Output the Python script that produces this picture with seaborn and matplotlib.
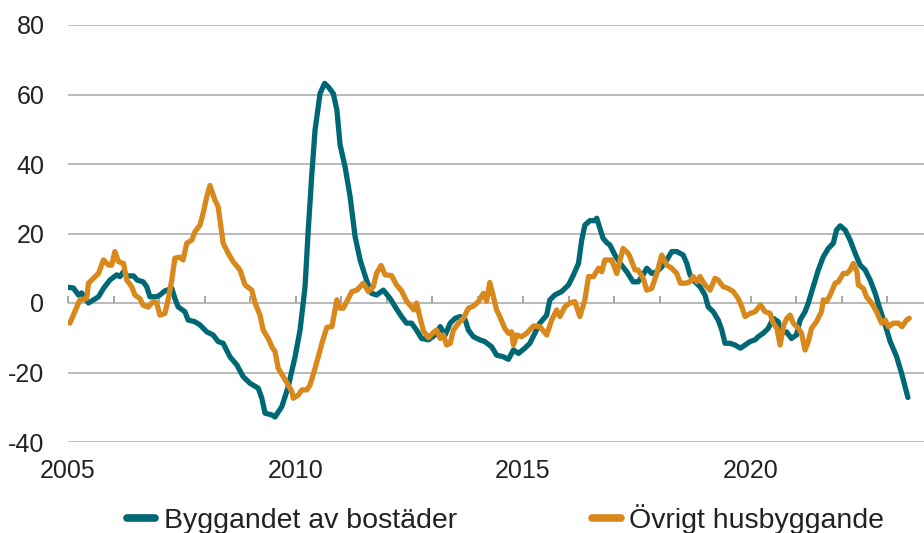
import pandas as pd
import seaborn as sns
import matplotlib.pyplot as plt
from matplotlib.lines import Line2D

# Byggandet av bostäder (teal), decimal year / value
bost_year = [2005.01, 2005.12, 2005.23, 2005.30, 2005.45, 2005.56, 2005.67, 2005.78, 2005.92,
             2006.07, 2006.14, 2006.22, 2006.29, 2006.44, 2006.52, 2006.65, 2006.73, 2006.80, 2006.95,
             2007.02, 2007.13, 2007.28, 2007.35, 2007.42, 2007.57, 2007.64, 2007.79, 2007.90,
             2008.05, 2008.19, 2008.30, 2008.41, 2008.56, 2008.71, 2008.85,
             2009.00, 2009.18, 2009.26, 2009.33, 2009.48, 2009.55, 2009.70, 2009.84, 2009.99,
             2010.10, 2010.21, 2010.28, 2010.36, 2010.43, 2010.54, 2010.64, 2010.72, 2010.83, 2010.91, 2010.98,
             2011.09, 2011.20, 2011.31, 2011.42, 2011.56, 2011.67, 2011.78, 2011.93,
             2012.08, 2012.19, 2012.33, 2012.44, 2012.55, 2012.66, 2012.77, 2012.92,
             2013.07, 2013.18, 2013.29, 2013.40, 2013.51, 2013.62, 2013.73, 2013.80, 2013.91,
             2014.05, 2014.16, 2014.31, 2014.42, 2014.57, 2014.68, 2014.79, 2014.90,
             2015.04, 2015.15, 2015.26, 2015.37, 2015.52, 2015.59, 2015.70, 2015.85,
             2016.00, 2016.11, 2016.22, 2016.29, 2016.36, 2016.47, 2016.58, 2016.62, 2016.69, 2016.76, 2016.84, 2016.91,
             2017.02, 2017.13, 2017.28, 2017.42, 2017.53, 2017.64, 2017.72, 2017.83, 2017.94,
             2018.05, 2018.16, 2018.27, 2018.38, 2018.52, 2018.60, 2018.67, 2018.78, 2018.89,
             2019.00, 2019.07, 2019.18, 2019.29, 2019.37, 2019.44, 2019.55, 2019.66, 2019.78, 2019.88, 2019.99,
             2020.10, 2020.17, 2020.28, 2020.39, 2020.50, 2020.61, 2020.68, 2020.79, 2020.90,
             2021.01, 2021.09, 2021.20, 2021.27, 2021.38, 2021.49, 2021.60, 2021.71, 2021.82, 2021.89, 2021.97,
             2022.08, 2022.19, 2022.30, 2022.41, 2022.52, 2022.63, 2022.74, 2022.85, 2022.96,
             2023.07, 2023.21, 2023.32, 2023.46]
bost_val = [4.5, 4.3, 2.3, 2.9, 0.0, 0.9, 1.8, 4.2, 6.6,
            8.1, 7.6, 9.0, 7.8, 7.8, 6.6, 6.1, 4.7, 1.8, 1.8,
            2.3, 3.5, 4.2, 1.3, -1.1, -2.5, -4.9, -5.4, -6.3,
            -8.3, -9.2, -11.1, -11.6, -15.5, -17.8, -21.2,
            -23.1, -24.5, -27.4, -31.7, -32.2, -32.8, -29.8, -24.1, -15.5,
            -7.8, 4.7, 21.0, 37.3, 49.8, 60.3, 63.2, 62.2, 60.3, 55.5, 45.5,
            39.2, 30.6, 19.1, 12.4, 6.6, 2.8, 2.3, 3.7,
            1.3, -1.1, -3.9, -5.8, -5.8, -7.8, -10.2, -10.6,
            -9.2, -6.8, -9.2, -5.8, -4.4, -3.9, -4.9, -7.8, -9.7,
            -10.6, -11.1, -12.6, -15.0, -15.5, -16.2, -13.5, -14.5,
            -13.0, -11.6, -8.7, -5.8, -3.5, 0.9, 2.3, 3.3,
            5.2, 8.1, 11.4, 18.1, 22.4, 23.7, 23.7, 24.4, 21.5, 18.6, 17.4, 16.7,
            13.8, 11.5, 9.0, 6.1, 6.1, 8.1, 10.0, 8.5, 9.0,
            10.4, 12.4, 14.8, 14.8, 13.8, 11.4, 8.1, 6.1, 4.7,
            2.3, -1.1, -2.5, -4.9, -7.8, -11.6, -11.6, -12.1, -13.0, -12.1, -11.1,
            -10.6, -9.7, -8.7, -7.3, -4.4, -5.4, -8.7, -8.3, -10.2,
            -9.2, -4.9, -2.5, 0.0, 4.7, 9.5, 13.3, 15.7, 17.2, 21.0, 22.2,
            21.0, 18.1, 14.3, 10.9, 9.5, 6.6, 2.8, -2.0, -6.3,
            -11.1, -15.4, -20.2, -27.2]

# Övrigt husbyggande (orange)
ovr_year = [2005.04, 2005.15, 2005.26, 2005.41, 2005.45, 2005.56, 2005.67, 2005.78, 2005.89, 2005.96,
            2006.03, 2006.11, 2006.22, 2006.29, 2006.40, 2006.47, 2006.58, 2006.65, 2006.76, 2006.87, 2006.95,
            2007.02, 2007.13, 2007.20, 2007.28, 2007.35, 2007.46, 2007.53, 2007.61, 2007.72, 2007.79, 2007.90, 2007.97,
            2008.05, 2008.12, 2008.23, 2008.30, 2008.41, 2008.52, 2008.63, 2008.78, 2008.89,
            2009.04, 2009.11, 2009.22, 2009.29, 2009.40, 2009.48, 2009.55, 2009.62, 2009.73, 2009.84, 2009.92, 2009.95,
            2010.06, 2010.14, 2010.25, 2010.32, 2010.43, 2010.50, 2010.58, 2010.69, 2010.80, 2010.91, 2010.98,
            2011.05, 2011.24, 2011.35, 2011.49, 2011.60, 2011.71, 2011.78, 2011.88, 2011.97,
            2012.11, 2012.22, 2012.33, 2012.44, 2012.60, 2012.66, 2012.73, 2012.81, 2012.92,
            2013.03, 2013.10, 2013.18, 2013.25, 2013.32, 2013.40, 2013.47, 2013.58, 2013.69, 2013.80, 2013.91,
            2014.02, 2014.13, 2014.20, 2014.27, 2014.35, 2014.42, 2014.49, 2014.60, 2014.68, 2014.75, 2014.79, 2014.86, 2014.97,
            2015.08, 2015.23, 2015.37, 2015.52, 2015.63, 2015.74, 2015.81, 2015.92,
            2016.03, 2016.14, 2016.25, 2016.36, 2016.44, 2016.55, 2016.66, 2016.73, 2016.80, 2016.95,
            2017.06, 2017.20, 2017.31, 2017.35, 2017.46, 2017.53, 2017.64, 2017.72, 2017.83, 2017.94,
            2018.05, 2018.16, 2018.27, 2018.38, 2018.46, 2018.57, 2018.67, 2018.74, 2018.82, 2018.89,
            2019.00, 2019.11, 2019.22, 2019.29, 2019.40, 2019.51, 2019.62, 2019.73, 2019.81, 2019.88, 2019.99,
            2020.10, 2020.22, 2020.32, 2020.43, 2020.50, 2020.58, 2020.65, 2020.73, 2020.80, 2020.87, 2020.94,
            2021.05, 2021.12, 2021.20, 2021.27, 2021.34, 2021.45, 2021.56, 2021.60, 2021.67, 2021.75, 2021.86, 2021.93,
            2022.04, 2022.12, 2022.19, 2022.26, 2022.34, 2022.37, 2022.48, 2022.55, 2022.66, 2022.77, 2022.88, 2022.96,
            2023.03, 2023.14, 2023.25, 2023.33, 2023.43, 2023.49]
ovr_val = [-5.8, -2.5, 0.9, 1.3, 5.7, 7.1, 8.5, 12.4, 10.9, 10.9,
           14.8, 11.9, 11.4, 6.6, 4.7, 2.3, 1.3, -0.6, -1.2, 0.4, 0.0,
           -3.5, -3.0, 0.9, 6.6, 12.9, 13.2, 12.4, 17.2, 18.1, 20.5, 22.4, 25.8,
           30.6, 33.8, 29.6, 27.7, 17.2, 14.3, 11.9, 9.5, 5.2,
           3.7, 0.0, -3.5, -7.8, -10.2, -12.6, -14.0, -18.8, -21.2, -23.6, -25.5, -27.4,
           -26.5, -25.0, -25.0, -23.6, -18.8, -15.5, -11.6, -7.0, -6.8, 0.9, -1.5,
           -1.5, 3.3, 3.7, 5.7, 3.3, 4.7, 8.5, 10.8, 8.1,
           7.9, 5.2, 3.5, 0.6, -2.0, 0.0, -3.9, -8.0, -10.0,
           -8.5, -7.8, -10.2, -9.2, -12.1, -11.6, -7.8, -5.8, -4.4, -1.5, -0.9,
           0.4, 2.8, 0.5, 5.9, 1.8, -2.0, -3.9, -7.3, -8.7, -8.3, -12.1, -9.2, -9.7,
           -8.7, -6.6, -6.8, -9.2, -4.9, -2.0, -3.9, -1.1,
           0.0, 0.4, -3.9, 0.9, 7.6, 7.6, 10.0, 9.0, 12.4, 12.4,
           8.5, 15.7, 14.3, 13.3, 9.5, 9.5, 7.1, 3.7, 4.2, 8.5,
           13.8, 10.9, 10.0, 8.5, 5.7, 5.7, 6.1, 7.6, 6.1, 7.6,
           5.2, 3.7, 7.1, 6.6, 4.7, 4.2, 3.3, 1.3, -1.1, -3.9, -3.0,
           -2.5, -0.6, -2.5, -3.0, -5.8, -7.3, -12.1, -6.3, -4.4, -3.5, -5.8,
           -7.3, -8.7, -13.5, -11.1, -7.3, -5.4, -2.5, 0.9, 0.4, 2.3, 5.7, 6.1,
           8.5, 8.5, 9.5, 11.4, 9.0, 5.2, 4.2, 1.8, 0.0, -2.5, -5.8, -4.9,
           -6.8, -5.8, -5.8, -6.8, -4.9, -4.4]

series_names = ["Byggandet av bostäder", "Övrigt husbyggande"]
series_colors = ["#006875", "#D9881C"]
y_ticks = [-40, -20, 0, 20, 40, 60, 80]
x_label_years = [2005, 2010, 2015, 2020]
minor_years = list(range(2005, 2024))

sns.set_style("white")
plt.rcParams["font.family"] = ["Liberation Sans", "DejaVu Sans"]
plt.rcParams["axes.unicode_minus"] = False

df_b = pd.DataFrame({"year": bost_year, "value": bost_val})
df_o = pd.DataFrame({"year": ovr_year, "value": ovr_val})

fig = plt.figure(figsize=(9.24, 5.33), dpi=100)
ax = fig.add_axes([68 / 924, 91 / 533, 1 - 68 / 924, (442 - 25) / 533])

for y in y_ticks:
    ax.axhline(y, color="#b4b4b4", lw=1.3, zorder=0)

sns.lineplot(data=df_b, x="year", y="value", ax=ax, color=series_colors[0], lw=3.8,
             solid_joinstyle="round", solid_capstyle="round")
sns.lineplot(data=df_o, x="year", y="value", ax=ax, color=series_colors[1], lw=3.8,
             solid_joinstyle="round", solid_capstyle="round")

ax.set_xlim(2005, 2005 + (924 - 68) / 45.5)
ax.set_ylim(-40, 80)
ax.set_yticks(y_ticks)
ax.set_xticks(x_label_years)
ax.set_xticklabels([str(y) for y in x_label_years])
ax.tick_params(axis="both", length=0, labelsize=18, colors="#222222")
ax.tick_params(axis="y", pad=17)
ax.tick_params(axis="x", pad=12)
ax.set_xlabel("")
ax.set_ylabel("")
for s in ax.spines.values():
    s.set_visible(False)

# small year ticks sitting on the zero line
sec = ax.secondary_xaxis(40 / 120)
sec.set_xticks(minor_years)
sec.set_xticklabels([])
sec.tick_params(direction="in", length=5, width=1.3, color="#a0a0a0")
sec.spines["bottom"].set_visible(False)

handles = [Line2D([0], [0], color=c, lw=5.5, solid_capstyle="round") for c in series_colors]
fig.legend(handles, series_names, loc="center", bbox_to_anchor=(0.547, 0.026), ncol=2,
           frameon=False, fontsize=20.5, handlelength=1.0, handletextpad=0.3,
           columnspacing=4.75, labelcolor="#222222")

fig.savefig("out.png", dpi=100)
